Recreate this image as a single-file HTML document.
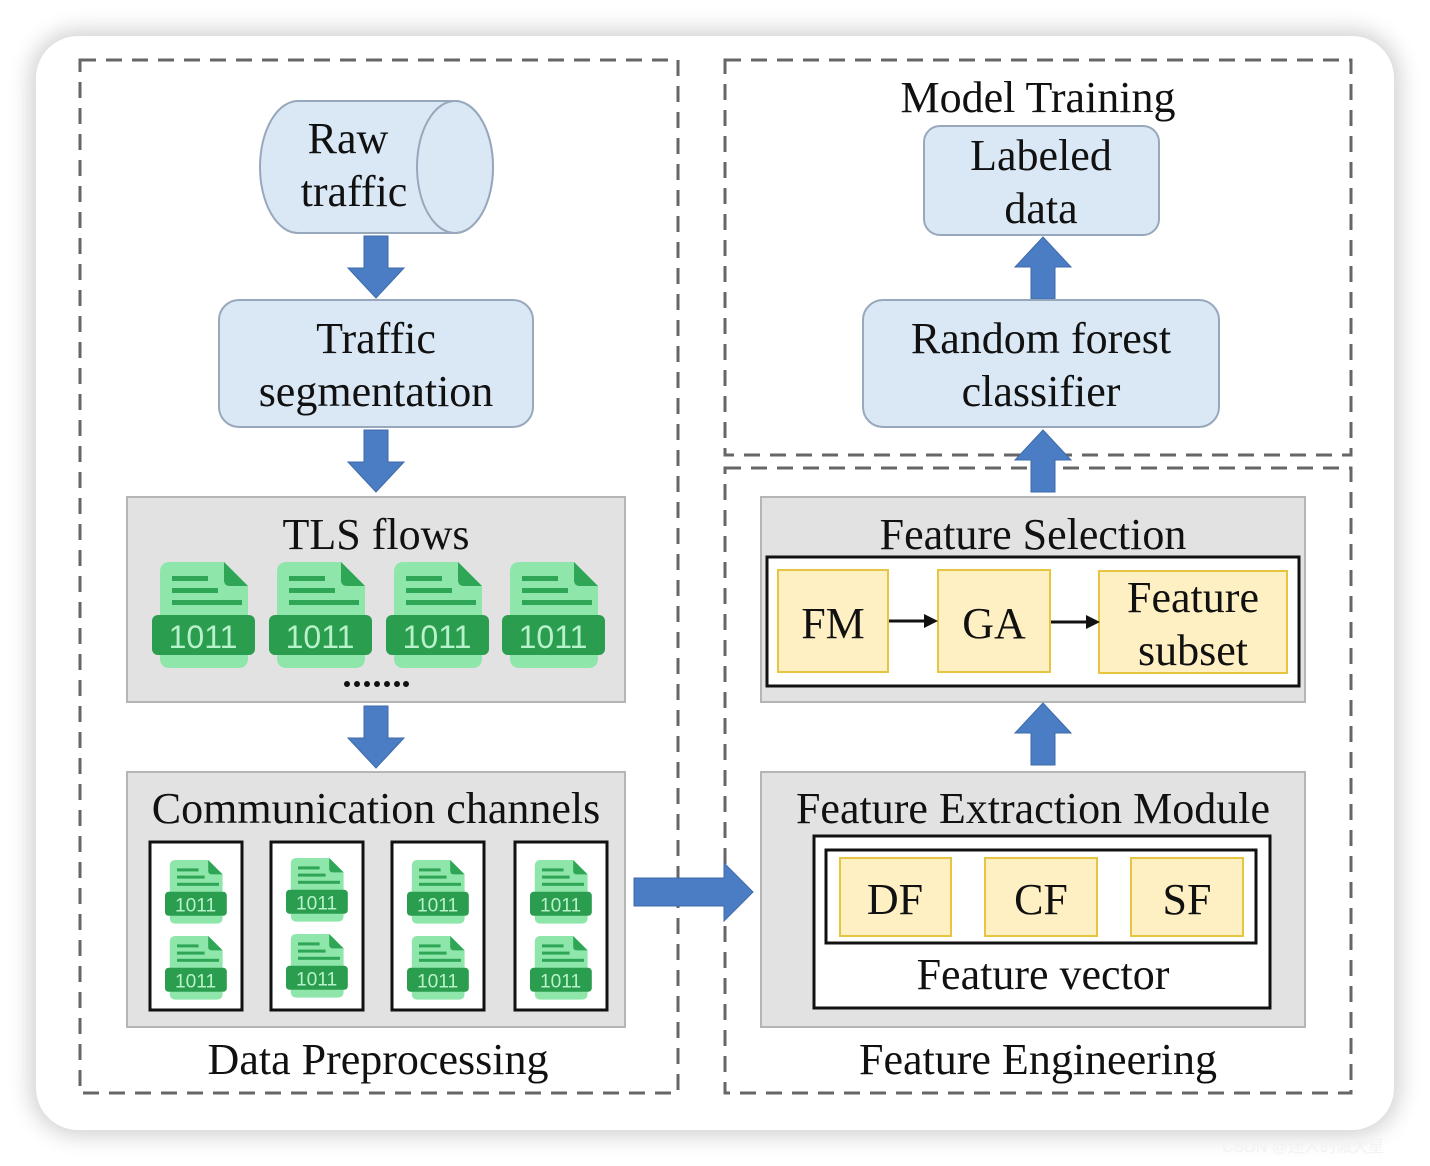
<!DOCTYPE html>
<html><head><meta charset="utf-8"><style>
html,body{margin:0;padding:0;background:#fff;width:1430px;height:1166px;overflow:hidden}
.card{position:absolute;left:36px;top:36px;width:1358px;height:1094px;border-radius:42px;background:#fff;box-shadow:0 0 22px 6px rgba(0,0,0,0.18)}
svg{position:absolute;left:0;top:0}
text{font-family:"Liberation Serif",serif;fill:#111}
.ic{font-family:"Liberation Sans",sans-serif;fill:#b8f2cb}
</style></head><body>
<div class="card"></div>
<svg width="1430" height="1166" viewBox="0 0 1430 1166">
<defs>
<g id="arrD"><path d="M-12 0 H12 V32 H28 L0 62 L-28 32 H-12Z" fill="#4a7dc3" stroke="#3e6aa8" stroke-width="1"/></g>
<g id="arrU"><path d="M-12 62 H12 V30 H28 L0 0 L-28 30 H-12Z" fill="#4a7dc3" stroke="#3e6aa8" stroke-width="1"/></g>
</defs>
<g fill="none" stroke="#666" stroke-width="3" stroke-dasharray="16 10">
<rect x="80" y="60" width="598" height="1033"/>
<rect x="725" y="60" width="626" height="395"/>
<rect x="725" y="468" width="626" height="625"/>
</g>
<path d="M298 101 H455 A38 66 0 0 1 455 233 H298 A38 66 0 0 1 298 101Z" fill="#dae8f5" stroke="#98a8bc" stroke-width="2"/>
<ellipse cx="455" cy="167" rx="38" ry="66" fill="#dae8f5" stroke="#98a8bc" stroke-width="2"/>
<text x="348" y="153" font-size="44" text-anchor="middle">Raw</text>
<text x="354" y="206" font-size="44" text-anchor="middle">traffic</text>
<use href="#arrD" x="376" y="236"/>
<rect x="219" y="300" width="314" height="127" rx="20" fill="#dae8f5" stroke="#98a8bc" stroke-width="2"/>
<text x="376" y="353" font-size="44" text-anchor="middle">Traffic</text>
<text x="376" y="406" font-size="44" text-anchor="middle">segmentation</text>
<use href="#arrD" x="376" y="430"/>
<rect x="127" y="497" width="498" height="205" fill="#e3e2e3" stroke="#b5b5b5" stroke-width="2"/>
<text x="376" y="549" font-size="44" text-anchor="middle">TLS flows</text>
<g transform="translate(152,562)"><path d="M18 0 H72 L96 24 V96 Q96 106 86 106 H18 Q8 106 8 96 V10 Q8 0 18 0Z" fill="#8ee6aa"/><path d="M72 0 L96 24 H78 Q72 24 72 18Z" fill="#2ea655"/><rect x="20" y="14" width="36" height="5" fill="#2ea655"/><rect x="20" y="26" width="46" height="5" fill="#2ea655"/><rect x="20" y="38" width="70" height="5" fill="#2ea655"/><rect x="0" y="53" width="103" height="40" rx="6" fill="#2a9d4e"/><text class="ic" x="51" y="86" font-size="32" text-anchor="middle">1011</text></g>
<g transform="translate(269,562)"><path d="M18 0 H72 L96 24 V96 Q96 106 86 106 H18 Q8 106 8 96 V10 Q8 0 18 0Z" fill="#8ee6aa"/><path d="M72 0 L96 24 H78 Q72 24 72 18Z" fill="#2ea655"/><rect x="20" y="14" width="36" height="5" fill="#2ea655"/><rect x="20" y="26" width="46" height="5" fill="#2ea655"/><rect x="20" y="38" width="70" height="5" fill="#2ea655"/><rect x="0" y="53" width="103" height="40" rx="6" fill="#2a9d4e"/><text class="ic" x="51" y="86" font-size="32" text-anchor="middle">1011</text></g>
<g transform="translate(386,562)"><path d="M18 0 H72 L96 24 V96 Q96 106 86 106 H18 Q8 106 8 96 V10 Q8 0 18 0Z" fill="#8ee6aa"/><path d="M72 0 L96 24 H78 Q72 24 72 18Z" fill="#2ea655"/><rect x="20" y="14" width="36" height="5" fill="#2ea655"/><rect x="20" y="26" width="46" height="5" fill="#2ea655"/><rect x="20" y="38" width="70" height="5" fill="#2ea655"/><rect x="0" y="53" width="103" height="40" rx="6" fill="#2a9d4e"/><text class="ic" x="51" y="86" font-size="32" text-anchor="middle">1011</text></g>
<g transform="translate(502,562)"><path d="M18 0 H72 L96 24 V96 Q96 106 86 106 H18 Q8 106 8 96 V10 Q8 0 18 0Z" fill="#8ee6aa"/><path d="M72 0 L96 24 H78 Q72 24 72 18Z" fill="#2ea655"/><rect x="20" y="14" width="36" height="5" fill="#2ea655"/><rect x="20" y="26" width="46" height="5" fill="#2ea655"/><rect x="20" y="38" width="70" height="5" fill="#2ea655"/><rect x="0" y="53" width="103" height="40" rx="6" fill="#2a9d4e"/><text class="ic" x="51" y="86" font-size="32" text-anchor="middle">1011</text></g>
<g fill="#111"><circle cx="347" cy="684" r="3"/><circle cx="357" cy="684" r="3"/><circle cx="367" cy="684" r="3"/><circle cx="377" cy="684" r="3"/><circle cx="387" cy="684" r="3"/><circle cx="397" cy="684" r="3"/><circle cx="406" cy="684" r="3"/></g>
<use href="#arrD" x="376" y="706"/>
<rect x="127" y="772" width="498" height="255" fill="#e3e2e3" stroke="#b5b5b5" stroke-width="2"/>
<text x="376" y="823" font-size="44" text-anchor="middle">Communication channels</text>
<g fill="#fff" stroke="#111" stroke-width="3">
<rect x="150" y="842" width="92" height="168"/><rect x="271" y="842" width="92" height="168"/><rect x="392" y="842" width="92" height="168"/><rect x="515" y="842" width="92" height="168"/>
</g>
<g transform="translate(165,860) scale(0.6)"><path d="M18 0 H72 L96 24 V96 Q96 106 86 106 H18 Q8 106 8 96 V10 Q8 0 18 0Z" fill="#8ee6aa"/><path d="M72 0 L96 24 H78 Q72 24 72 18Z" fill="#2ea655"/><rect x="20" y="14" width="36" height="5" fill="#2ea655"/><rect x="20" y="26" width="46" height="5" fill="#2ea655"/><rect x="20" y="38" width="70" height="5" fill="#2ea655"/><rect x="0" y="53" width="103" height="40" rx="6" fill="#2a9d4e"/><text class="ic" x="51" y="86" font-size="32" text-anchor="middle">1011</text></g>
<g transform="translate(165,936) scale(0.6)"><path d="M18 0 H72 L96 24 V96 Q96 106 86 106 H18 Q8 106 8 96 V10 Q8 0 18 0Z" fill="#8ee6aa"/><path d="M72 0 L96 24 H78 Q72 24 72 18Z" fill="#2ea655"/><rect x="20" y="14" width="36" height="5" fill="#2ea655"/><rect x="20" y="26" width="46" height="5" fill="#2ea655"/><rect x="20" y="38" width="70" height="5" fill="#2ea655"/><rect x="0" y="53" width="103" height="40" rx="6" fill="#2a9d4e"/><text class="ic" x="51" y="86" font-size="32" text-anchor="middle">1011</text></g>
<g transform="translate(286,858) scale(0.6)"><path d="M18 0 H72 L96 24 V96 Q96 106 86 106 H18 Q8 106 8 96 V10 Q8 0 18 0Z" fill="#8ee6aa"/><path d="M72 0 L96 24 H78 Q72 24 72 18Z" fill="#2ea655"/><rect x="20" y="14" width="36" height="5" fill="#2ea655"/><rect x="20" y="26" width="46" height="5" fill="#2ea655"/><rect x="20" y="38" width="70" height="5" fill="#2ea655"/><rect x="0" y="53" width="103" height="40" rx="6" fill="#2a9d4e"/><text class="ic" x="51" y="86" font-size="32" text-anchor="middle">1011</text></g>
<g transform="translate(286,934) scale(0.6)"><path d="M18 0 H72 L96 24 V96 Q96 106 86 106 H18 Q8 106 8 96 V10 Q8 0 18 0Z" fill="#8ee6aa"/><path d="M72 0 L96 24 H78 Q72 24 72 18Z" fill="#2ea655"/><rect x="20" y="14" width="36" height="5" fill="#2ea655"/><rect x="20" y="26" width="46" height="5" fill="#2ea655"/><rect x="20" y="38" width="70" height="5" fill="#2ea655"/><rect x="0" y="53" width="103" height="40" rx="6" fill="#2a9d4e"/><text class="ic" x="51" y="86" font-size="32" text-anchor="middle">1011</text></g>
<g transform="translate(407,860) scale(0.6)"><path d="M18 0 H72 L96 24 V96 Q96 106 86 106 H18 Q8 106 8 96 V10 Q8 0 18 0Z" fill="#8ee6aa"/><path d="M72 0 L96 24 H78 Q72 24 72 18Z" fill="#2ea655"/><rect x="20" y="14" width="36" height="5" fill="#2ea655"/><rect x="20" y="26" width="46" height="5" fill="#2ea655"/><rect x="20" y="38" width="70" height="5" fill="#2ea655"/><rect x="0" y="53" width="103" height="40" rx="6" fill="#2a9d4e"/><text class="ic" x="51" y="86" font-size="32" text-anchor="middle">1011</text></g>
<g transform="translate(407,936) scale(0.6)"><path d="M18 0 H72 L96 24 V96 Q96 106 86 106 H18 Q8 106 8 96 V10 Q8 0 18 0Z" fill="#8ee6aa"/><path d="M72 0 L96 24 H78 Q72 24 72 18Z" fill="#2ea655"/><rect x="20" y="14" width="36" height="5" fill="#2ea655"/><rect x="20" y="26" width="46" height="5" fill="#2ea655"/><rect x="20" y="38" width="70" height="5" fill="#2ea655"/><rect x="0" y="53" width="103" height="40" rx="6" fill="#2a9d4e"/><text class="ic" x="51" y="86" font-size="32" text-anchor="middle">1011</text></g>
<g transform="translate(530,860) scale(0.6)"><path d="M18 0 H72 L96 24 V96 Q96 106 86 106 H18 Q8 106 8 96 V10 Q8 0 18 0Z" fill="#8ee6aa"/><path d="M72 0 L96 24 H78 Q72 24 72 18Z" fill="#2ea655"/><rect x="20" y="14" width="36" height="5" fill="#2ea655"/><rect x="20" y="26" width="46" height="5" fill="#2ea655"/><rect x="20" y="38" width="70" height="5" fill="#2ea655"/><rect x="0" y="53" width="103" height="40" rx="6" fill="#2a9d4e"/><text class="ic" x="51" y="86" font-size="32" text-anchor="middle">1011</text></g>
<g transform="translate(530,936) scale(0.6)"><path d="M18 0 H72 L96 24 V96 Q96 106 86 106 H18 Q8 106 8 96 V10 Q8 0 18 0Z" fill="#8ee6aa"/><path d="M72 0 L96 24 H78 Q72 24 72 18Z" fill="#2ea655"/><rect x="20" y="14" width="36" height="5" fill="#2ea655"/><rect x="20" y="26" width="46" height="5" fill="#2ea655"/><rect x="20" y="38" width="70" height="5" fill="#2ea655"/><rect x="0" y="53" width="103" height="40" rx="6" fill="#2a9d4e"/><text class="ic" x="51" y="86" font-size="32" text-anchor="middle">1011</text></g>
<text x="378" y="1074" font-size="44" text-anchor="middle">Data Preprocessing</text>
<path d="M634 878 H724 V863 L753 892 L724 921 V906 H634Z" fill="#4a7dc3" stroke="#3e6aa8" stroke-width="1"/>
<text x="1038" y="112" font-size="44" text-anchor="middle">Model Training</text>
<rect x="924" y="126" width="235" height="109" rx="16" fill="#dae8f5" stroke="#98a8bc" stroke-width="2"/>
<text x="1041" y="170" font-size="44" text-anchor="middle">Labeled</text>
<text x="1041" y="223" font-size="44" text-anchor="middle">data</text>
<use href="#arrU" x="1043" y="237"/>
<rect x="863" y="300" width="356" height="127" rx="20" fill="#dae8f5" stroke="#98a8bc" stroke-width="2"/>
<text x="1041" y="353" font-size="44" text-anchor="middle">Random forest</text>
<text x="1041" y="406" font-size="44" text-anchor="middle">classifier</text>
<use href="#arrU" x="1043" y="430"/>
<rect x="761" y="497" width="544" height="205" fill="#e3e2e3" stroke="#b5b5b5" stroke-width="2"/>
<text x="1033" y="549" font-size="44" text-anchor="middle">Feature Selection</text>
<rect x="767" y="557" width="532" height="129" fill="#fff" stroke="#111" stroke-width="3"/>
<g fill="#fff0c4" stroke="#e6c640" stroke-width="2">
<rect x="778" y="570" width="110" height="102"/><rect x="938" y="570" width="112" height="102"/><rect x="1099" y="571" width="188" height="102"/>
</g>
<text x="833" y="638" font-size="44" text-anchor="middle">FM</text>
<text x="994" y="638" font-size="44" text-anchor="middle">GA</text>
<text x="1193" y="612" font-size="44" text-anchor="middle">Feature</text>
<text x="1193" y="665" font-size="44" text-anchor="middle">subset</text>
<g stroke="#111" stroke-width="3"><line x1="889" y1="621" x2="926" y2="621"/><line x1="1051" y1="622" x2="1088" y2="622"/></g>
<path d="M924 614 L938 621 L924 628Z M1086 615 L1100 622 L1086 629Z" fill="#111"/>
<use href="#arrU" x="1043" y="703"/>
<rect x="761" y="772" width="544" height="255" fill="#e3e2e3" stroke="#b5b5b5" stroke-width="2"/>
<text x="1033" y="823" font-size="44" text-anchor="middle">Feature Extraction Module</text>
<rect x="814" y="836" width="456" height="172" fill="#fff" stroke="#111" stroke-width="3"/>
<rect x="826" y="850" width="430" height="93" fill="#fff" stroke="#111" stroke-width="3"/>
<g fill="#fff0c4" stroke="#e6c640" stroke-width="2">
<rect x="840" y="858" width="111" height="78"/><rect x="985" y="858" width="112" height="78"/><rect x="1131" y="858" width="112" height="78"/>
</g>
<text x="895" y="914" font-size="44" text-anchor="middle">DF</text>
<text x="1041" y="914" font-size="44" text-anchor="middle">CF</text>
<text x="1187" y="914" font-size="44" text-anchor="middle">SF</text>
<text x="1043" y="989" font-size="44" text-anchor="middle">Feature vector</text>
<text x="1038" y="1074" font-size="44" text-anchor="middle">Feature Engineering</text>
<text x="1222" y="1152" font-size="16" style="font-family:'Liberation Sans','Noto Sans CJK SC',sans-serif;fill:#f2f2f2">CSDN @迷人的派大星</text>
</svg>
</body></html>
